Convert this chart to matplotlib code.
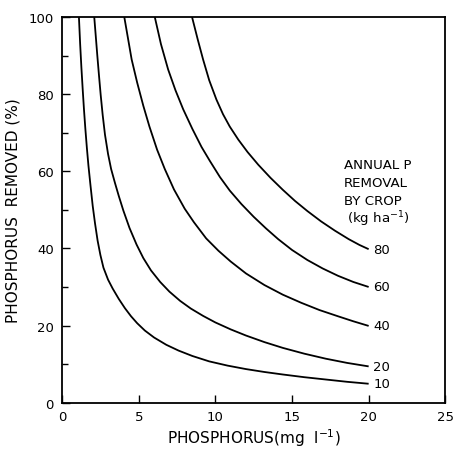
import numpy as np
import matplotlib
matplotlib.use('Agg')
import matplotlib.pyplot as plt
from matplotlib.ticker import MultipleLocator

# curves: P conc (mg/l) vs P removed (%), one per crop removal rate
p10_x = [1.10, 1.18, 1.26, 1.35, 1.43, 1.52, 1.62, 1.72, 1.85, 2.0, 2.15, 2.32, 2.5, 2.7, 3.0, 3.3, 3.7,
	4.1, 4.5, 4.9, 5.4, 6.0, 6.8, 7.6, 8.5, 9.6, 10.8, 12.0, 13.2, 14.4, 15.8, 17.2, 18.6, 20.0]
p10_y = [100, 93, 87, 81, 76, 71, 66, 61.5, 56.5, 51, 46.5, 42, 38.3, 35.0, 31.9, 29.6, 26.9,
	24.5, 22.4, 20.6, 18.7, 16.9, 15.0, 13.5, 12.1, 10.7, 9.6, 8.7, 7.95, 7.3, 6.6, 6.0, 5.4, 4.9]

p20_x = [2.10, 2.2, 2.3, 2.41, 2.52, 2.65, 2.8, 3.0, 3.2, 3.45, 3.7, 4.0, 4.4, 4.86, 5.3, 5.8, 6.4,
	7.0, 7.7, 8.4, 9.2, 10.0, 11.0, 12.0, 13.2, 14.4, 15.8, 17.2, 18.6, 20.0]
p20_y = [100, 95, 90, 84.8, 79.8, 74.6, 69.5, 64.5, 60.6, 57.0, 53.6, 49.8, 45.3, 41.0, 37.5, 34.3, 31.3,
	28.8, 26.4, 24.4, 22.5, 20.8, 19.0, 17.4, 15.7, 14.2, 12.7, 11.4, 10.3, 9.4]

p40_x = [4.06, 4.3, 4.54, 4.9, 5.3, 5.7, 6.2, 6.7, 7.3, 8.0, 8.6, 9.4, 10.2, 11.0, 12.0,
	13.2, 14.4, 15.6, 16.8, 18.0, 19.0, 20.0]
p40_y = [100, 94.5, 89, 83.0, 77.0, 71.6, 65.6, 60.6, 55.3, 50.3, 46.8, 42.6, 39.4, 36.6, 33.5,
	30.5, 28.0, 25.9, 24.0, 22.4, 21.1, 19.9]

p60_x = [6.05, 6.45, 6.92, 7.4, 7.9, 8.5, 9.1, 9.64, 10.3, 10.94, 11.7, 12.5, 13.3, 14.1,
	15.0, 16.0, 17.0, 18.0, 19.0, 20.0]
p60_y = [100, 93, 86.4, 81, 76.1, 71, 66.3, 62.7, 58.5, 55, 51.5, 48.2, 45.2, 42.4,
	39.6, 37.0, 34.8, 32.9, 31.3, 30]

p80_x = [8.48, 8.85, 9.2, 9.6, 10.07, 10.5, 10.94, 11.5, 12.1, 12.8, 13.6, 14.4, 15.2, 16.0,
	16.9, 17.8, 18.7, 19.4, 20.0]
p80_y = [100, 94.2, 89.0, 83.6, 78.6, 74.8, 71.6, 68.2, 65.0, 61.7, 58.3, 55.2, 52.3, 49.7,
	47.0, 44.6, 42.4, 40.9, 39.8]

curve_names = ['10', '20', '40', '60', '80']
curve_xs = [p10_x, p20_x, p40_x, p60_x, p80_x]
curve_ys = [p10_y, p20_y, p40_y, p60_y, p80_y]

legend_lines = ['ANNUAL P', 'REMOVAL', 'BY CROP', '(kg ha$^{-1}$)']

plt.rcParams['font.family'] = ['DejaVu Sans']
fig = plt.figure(figsize=(4.53, 4.52), dpi=100)
ax = fig.add_axes([0.137, 0.107, 0.846, 0.853])

for name, xs, ys in zip(curve_names, curve_xs, curve_ys):
	ax.plot(xs, ys, color='black', lw=1.3, solid_capstyle='butt', solid_joinstyle='round')
	ax.text(xs[-1] + 0.3, ys[-1], name, ha='left', va='center', fontsize=9.5)

# header over the curve labels
head_y = [61.7, 57.1, 52.5, 47.8]
for i, txt in enumerate(legend_lines):
	xoff = 18.4 if i < 3 else 18.6
	ax.text(xoff, head_y[i], txt, ha='left', va='center', fontsize=9.6)

ax.set_xlim(0, 25)
ax.set_ylim(0, 100)
ax.set_xticks([0, 5, 10, 15, 20, 25])
ax.set_yticks([0, 20, 40, 60, 80, 100])
ax.yaxis.set_minor_locator(MultipleLocator(10))
ax.tick_params(axis='both', which='major', direction='in', length=6, width=1, labelsize=9.5, pad=5)
ax.tick_params(axis='y', which='minor', direction='in', length=4, width=1)
ax.tick_params(axis='y', which='major', pad=6)
for s in ax.spines.values():
	s.set_linewidth(1.3)

ax.set_xlabel('PHOSPHORUS(mg  l$^{-1}$)', fontsize=11, labelpad=3)
ax.set_ylabel('PHOSPHORUS  REMOVED (%)', fontsize=11, labelpad=6)

plt.savefig('out.png', dpi=100)
